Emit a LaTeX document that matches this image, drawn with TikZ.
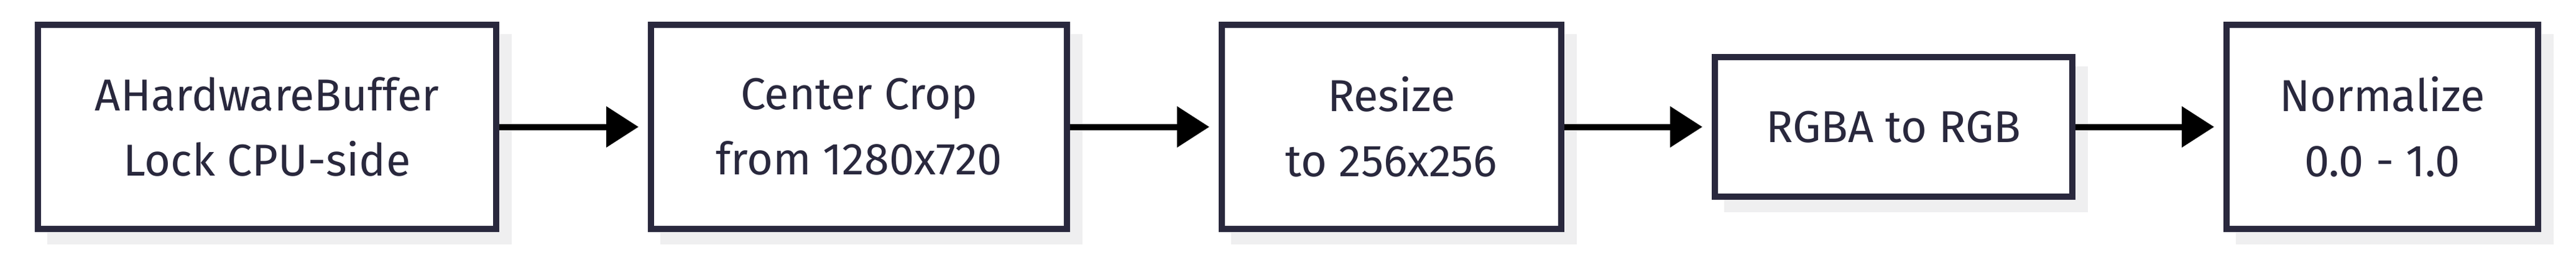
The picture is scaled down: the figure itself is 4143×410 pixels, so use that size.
\documentclass[tikz,border=0pt]{standalone}
\usepackage{fontspec}
\setmainfont{Fira Sans}
\usetikzlibrary{arrows.meta,backgrounds}
\definecolor{ink}{HTML}{29283D}
\definecolor{shade}{HTML}{EFEFF0}
\begin{document}
\begin{tikzpicture}[x=0.25pt,y=-0.25pt,
  box/.style={draw=ink, line width=2.5pt, fill=white, text=ink, align=center,
    inner sep=0pt, minimum height=82.25pt,
    font=\fontsize{18}{26.25}\selectfont},
  arr/.style={draw=black, line width=2.5pt, shorten >=3.75pt,
    -{Triangle[length=13pt,width=16pt]}},
  shadowfill/.style={fill=shade}]
\useasboundingbox (0,0) rectangle (4143,410);
\node[box, minimum width=184.25pt] (b1) at (429.5,204.5) {AHardwareBuffer\\Lock CPU-side};
\node[box, minimum width=167.25pt] (b2) at (1381.5,204.5) {Center Crop\\from 1280x720};
\node[box, minimum width=136.5pt] (b3) at (2238,204.5) {Resize\\to 256x256};
\node[box, minimum width=143.75pt, minimum height=56.25pt] (b4) at (3045.5,204.5) {RGBA to RGB};
\node[box, minimum width=125.25pt] (b5) at (3831.5,204.5) {Normalize\\0.0 - 1.0};
\begin{scope}[on background layer]
  \foreach \n in {b1,b2,b3,b4,b5}
    \fill[shadowfill] ([shift={(20,20)}]\n.north west) rectangle ([shift={(20,20)}]\n.south east);
\end{scope}
\draw[arr] (b1.east) -- (b2.west);
\draw[arr] (b2.east) -- (b3.west);
\draw[arr] (b3.east) -- (b4.west);
\draw[arr] (b4.east) -- (b5.west);
\end{tikzpicture}
\end{document}
